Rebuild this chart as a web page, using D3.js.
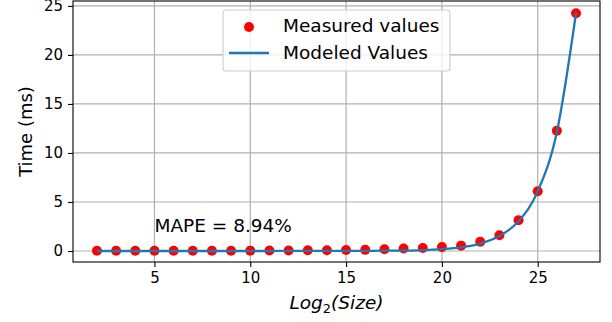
<!DOCTYPE html>
<html>
<head>
<meta charset="utf-8">
<style>
    body { margin: 0; background: #fff; }
    svg text { font-family: "DejaVu Sans", sans-serif; fill: #000; }
</style>
</head>
<body>
<svg id="chart" width="612" height="322"></svg>
<script src="https://cdn.jsdelivr.net/npm/d3@7"></script>
<script>
    // log2 of input size
    const sizes = [2, 3, 4, 5, 6, 7, 8, 9, 10, 11, 12, 13, 14, 15, 16, 17, 18, 19, 20, 21, 22, 23, 24, 25, 26, 27]
    // measured time in ms
    const measured = [0.02, 0.02, 0.02, 0.02, 0.02, 0.03, 0.03, 0.03, 0.04, 0.05, 0.06, 0.07, 0.08,
        0.1, 0.12, 0.18, 0.25, 0.3, 0.4, 0.55, 0.95, 1.6, 3.15, 6.1, 12.27, 24.25]
    // model output in ms
    const modeled = [0, 0, 0, 0, 0, 0, 0, 0, 0, 0, 0.01, 0.01, 0.01,
        0.01, 0.02, 0.03, 0.05, 0.1, 0.2, 0.38, 0.76, 1.52, 3.04, 6.08, 12.15, 24.3]
    const xTicks = [5, 10, 15, 20, 25]
    const yTicks = [0, 5, 10, 15, 20, 25]
    const mapeText = "MAPE = 8.94%"

    const svg = d3.select("#chart")
    const pLeft = 73, pRight = 600, pTop = 1, pBottom = 262

    let x = d3.scaleLinear().domain([0.75, 28.25]).range([pLeft, pRight])
    let y = d3.scaleLinear().domain([-1.12, 25.5]).range([pBottom, pTop])

    // grid
    let grid = svg.append("g")
    grid.selectAll(".gx").data(xTicks).enter().append("line")
        .attr("x1", d => x(d)).attr("x2", d => x(d))
        .attr("y1", pTop).attr("y2", pBottom)
        .attr("stroke", "#b0b0b0").attr("stroke-width", 1.2)
    grid.selectAll(".gy").data(yTicks).enter().append("line")
        .attr("x1", pLeft).attr("x2", pRight)
        .attr("y1", d => y(d)).attr("y2", d => y(d))
        .attr("stroke", "#b0b0b0").attr("stroke-width", 1.2)

    // axes
    let xAxis = svg.append("g")
        .attr("transform", `translate(0,${pBottom})`)
        .call(d3.axisBottom(x).tickValues(xTicks).tickSize(5).tickPadding(5))
    let yAxis = svg.append("g")
        .attr("transform", `translate(${pLeft},0)`)
        .call(d3.axisLeft(y).tickValues(yTicks).tickSize(5).tickPadding(5))
    for (let ax of [xAxis, yAxis]) {
        ax.select(".domain").remove()
        ax.selectAll("line").attr("stroke", "#000").attr("stroke-width", 1.1)
        ax.selectAll("text").style("font-size", "15px").attr("fill", "#000")
            .style("font-family", "DejaVu Sans")
    }

    // points, then model line on top
    let pts = sizes.map((s, i) => ({ s: s, m: measured[i], p: modeled[i] }))
    svg.append("g").selectAll("circle").data(pts).enter().append("circle")
        .attr("cx", d => x(d.s)).attr("cy", d => y(d.m))
        .attr("r", 5).attr("fill", "#ff0000")

    let line = d3.line().x(d => x(d.s)).y(d => y(d.p)).curve(d3.curveMonotoneX)
    svg.append("path").datum(pts)
        .attr("d", line)
        .attr("fill", "none").attr("stroke", "#1f77b4").attr("stroke-width", 2.3)

    // frame
    svg.append("rect")
        .attr("x", pLeft).attr("y", pTop)
        .attr("width", pRight - pLeft).attr("height", pBottom - pTop)
        .attr("fill", "none").attr("stroke", "#000").attr("stroke-width", 1.1)

    // MAPE note
    svg.append("text").attr("x", x(5)).attr("y", 232)
        .style("font-size", "18.5px").text(mapeText)

    // axis labels
    svg.append("text")
        .attr("transform", `translate(32,${(pTop + pBottom) / 2}) rotate(-90)`)
        .attr("text-anchor", "middle").style("font-size", "18px")
        .text("Time (ms)")
    let xl = svg.append("text")
        .attr("x", (pLeft + pRight) / 2).attr("y", 309)
        .attr("text-anchor", "middle").style("font-size", "18.5px")
    xl.append("tspan").style("font-style", "italic").text("Log")
    xl.append("tspan").attr("dy", 4).style("font-size", "13px").text("2")
    xl.append("tspan").attr("dy", -4).style("font-style", "italic").text("(Size)")

    // legend
    let lg = svg.append("g")
    lg.append("rect")
        .attr("x", 223).attr("y", 10).attr("width", 227).attr("height", 61).attr("rx", 3)
        .attr("fill", "#fff").attr("fill-opacity", 0.8)
        .attr("stroke", "#cccccc").attr("stroke-width", 1.1)
    lg.append("circle").attr("cx", 249).attr("cy", 27).attr("r", 5).attr("fill", "#ff0000")
    lg.append("line").attr("x1", 229).attr("x2", 269).attr("y1", 53).attr("y2", 53)
        .attr("stroke", "#1f77b4").attr("stroke-width", 2.3)
    lg.append("text").attr("x", 283).attr("y", 32).style("font-size", "18.5px").text("Measured values")
    lg.append("text").attr("x", 283).attr("y", 59).style("font-size", "18.5px").text("Modeled Values")
</script>
</body>
</html>
